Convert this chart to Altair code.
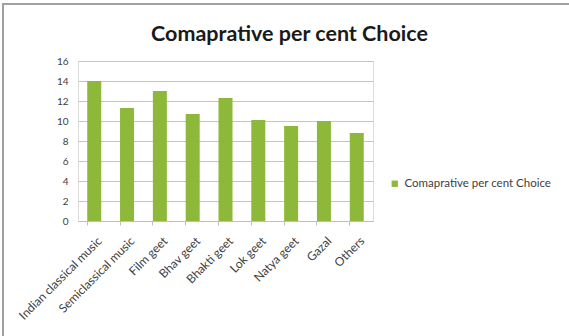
import altair as alt
import pandas as pd

categories = ["Indian classical music", "Semiclassical music", "Film geet", "Bhav geet",
              "Bhakti geet", "Lok geet", "Natya geet", "Gazal", "Others"]
values = [14.0, 11.3, 13.0, 10.7, 12.3, 10.1, 9.5, 10.0, 8.8]
series = "Comaprative per cent Choice"

df = pd.DataFrame({"cat": categories, "val": values, "series": [series] * len(values)})

FONT = "Lato"

bars = alt.Chart(df).mark_bar(
    size=14,
    color=alt.Gradient(
        gradient="linear",
        stops=[alt.GradientStop(color="#a8ce5e", offset=0),
               alt.GradientStop(color="#74a02a", offset=1)],
        x1=0, x2=0, y1=0, y2=1,
    ),
).encode(
    x=alt.X("cat:N", sort=categories, title=None,
            scale=alt.Scale(paddingInner=0.57, paddingOuter=0.28),
            axis=alt.Axis(labelAngle=-45, labelAlign="right", labelBaseline="top",
                          labelFontSize=12, labelColor="#404040", labelFont=FONT,
                          domainColor="#bfbfbf", tickColor="#bfbfbf", tickSize=4,
                          bandPosition=0, labelPadding=10, labelOffset=2)),
    y=alt.Y("val:Q", title=None,
            scale=alt.Scale(domain=[0, 16], nice=False),
            axis=alt.Axis(values=list(range(0, 17, 2)), labelFontSize=10,
                          labelColor="#404040", labelFont=FONT, domain=False,
                          ticks=False, labelPadding=10, gridColor="#c4c4c4")),
    fill=alt.Fill("series:N", title=None,
                  scale=alt.Scale(range=["#8db83a"]),
                  legend=alt.Legend(orient="none", legendX=311, legendY=117,
                                    symbolType="square", symbolSize=40,
                                    labelFontSize=11.5, labelColor="#404040",
                                    labelFont=FONT, symbolStrokeWidth=0)),
)

border = alt.Chart(df).mark_rect(fill=None, stroke="#a0a0a0", strokeWidth=2).encode(
    x=alt.value(-75), x2=alt.value(520), y=alt.value(-57), y2=alt.value(300)
)

title = alt.Chart(pd.DataFrame({"t": [series]})).mark_text(
    fontSize=21.5, font=FONT, fontWeight="bold", color="#1a1a1a",
    align="center", baseline="alphabetic"
).encode(text="t:N", x=alt.value(211.5), y=alt.value(-20))

chart = alt.layer(border, bars, title).properties(
    width=295, height=160,
    autosize=alt.AutoSizeParams(type="none"),
    padding={"left": 78, "top": 61, "right": 196, "bottom": 115},
).configure_view(stroke=None).configure(background="white")

chart.save("out.html", embed_options={"renderer": "svg", "actions": False})
